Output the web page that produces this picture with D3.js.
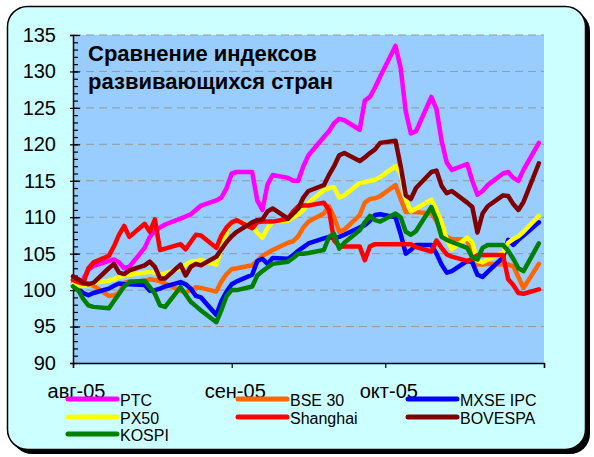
<!DOCTYPE html>
<html>
<head>
<meta charset="utf-8">
<script src="https://cdn.jsdelivr.net/npm/d3@7"></script>
<style>
  body { margin: 0; background: #fff; }
  text { font-family: "Liberation Sans", Arial, sans-serif; }
</style>
</head>
<body>
<div id="content"></div>
<script>
// trading days, Aug-Oct 2005
const dates = [
  "2005-08-01","2005-08-02","2005-08-03","2005-08-04","2005-08-05",
  "2005-08-08","2005-08-09","2005-08-10","2005-08-11","2005-08-12",
  "2005-08-15","2005-08-16","2005-08-17","2005-08-18","2005-08-19",
  "2005-08-22","2005-08-23","2005-08-24","2005-08-25","2005-08-26",
  "2005-08-29","2005-08-30","2005-08-31","2005-09-01","2005-09-02",
  "2005-09-05","2005-09-06","2005-09-07","2005-09-08","2005-09-09",
  "2005-09-12","2005-09-13","2005-09-14","2005-09-15","2005-09-16",
  "2005-09-19","2005-09-20","2005-09-21","2005-09-22","2005-09-23",
  "2005-09-26","2005-09-27","2005-09-28","2005-09-29","2005-09-30",
  "2005-10-03","2005-10-04","2005-10-05","2005-10-06","2005-10-07",
  "2005-10-10","2005-10-11","2005-10-12","2005-10-13","2005-10-14",
  "2005-10-17","2005-10-18","2005-10-19","2005-10-20","2005-10-21",
  "2005-10-24","2005-10-25","2005-10-26","2005-10-27","2005-10-28",
  "2005-10-31"
]

const ptc = [101.0,100.6,101.5,102.8,103.3, 104.0,104.2,103.8,103.0,103.2,
  105.8,107.3,108.1,108.6,109.0, 109.8,110.1,110.4,111.0,111.6,
  112.3,112.7,114.0,116.0,116.2, 116.2,112.3,111.0,114.5,115.8,
  115.4,115.0,115.0,117.0,118.5, 121.0,121.8,122.9,123.5,123.3,
  122.0,126.0,126.5,127.8,129.3, 133.5,130.5,124.5,121.5,121.8,
  126.5,124.8,120.5,117.5,116.5, 117.3,115.0,113.1,113.6,114.4,
  116.0,116.2,115.4,115.0,116.5, 120.2]
const bse30 = [101.4,101.2,101.0,100.9,100.6, 99.2,99.3,99.6,101.0,101.2,
  101.2,101.5,101.4,101.2,100.9, 99.9,99.7,100.0,100.4,100.3,
  99.8,101.2,102.2,102.9,103.0, 103.4,104.0,104.7,105.1,105.5,
  106.5,106.7,107.4,108.6,109.4, 110.5,111.5,110.0,108.0,108.3,
  110.3,112.0,112.5,112.6,112.9, 114.4,112.5,110.7,110.7,110.7,
  110.5,109.5,108.0,107.3,107.0, 106.9,105.0,103.5,103.5,103.6,
  103.5,103.5,103.3,101.8,100.3, 103.6]
const mxse = [100.7,100.2,99.6,99.3,99.6, 100.2,100.6,100.9,100.8,100.8,
  100.7,99.9,100.0,100.2,100.5, 101.1,100.8,100.2,99.2,99.0,
  96.6,98.5,99.8,100.8,101.2, 102.1,104.0,104.3,103.6,104.4,
  104.3,104.8,105.4,105.9,106.4, 107.1,107.3,107.1,107.3,107.6,
  108.6,108.9,109.5,110.3,110.4, 110.0,107.7,105.0,105.5,106.2,
  106.2,105.0,103.5,102.4,102.6, 104.0,103.8,102.1,101.8,102.5,
  104.5,106.9,106.2,106.9,107.5, 109.3]
const px50 = [100.8,100.5,100.6,100.7,101.0, 101.3,101.5,101.8,102.0,102.1,
  102.4,102.5,102.4,102.1,102.3, 103.0,103.5,103.9,104.0,104.1,
  103.5,105.8,108.0,109.3,109.5, 108.8,107.9,107.2,108.5,109.4,
  109.5,110.0,110.4,111.0,112.0, 113.7,114.0,114.1,112.7,113.0,
  114.7,114.8,115.0,115.1,115.5, 117.0,116.0,112.5,110.8,111.2,
  112.4,111.0,109.3,107.0,105.6, 107.2,106.5,104.0,103.8,104.2,
  105.2,106.5,107.0,107.4,108.0, 110.2]
const shanghai = [101.4,101.1,100.9,103.0,103.8, 104.7,106.0,107.6,108.8,107.3,
  109.1,108.0,109.7,105.5,105.7, 106.3,105.6,106.6,107.6,107.5,
  105.8,107.5,108.6,109.3,109.6, 108.5,109.3,109.4,109.4,109.4,
  109.8,110.8,111.5,111.6,111.6, 112.0,111.0,106.8,106.0,106.0,
  106.0,104.1,106.0,106.3,106.3, 106.3,106.3,106.3,106.3,105.9,
  105.3,106.8,105.8,104.9,104.6, 104.0,104.3,104.8,104.8,104.8,
  104.8,101.5,100.7,99.6,99.5, 100.1]
const bovespa = [101.9,101.5,101.0,100.8,101.0, 103.0,103.6,102.4,102.2,102.7,
  103.4,103.9,103.2,101.6,101.6, 103.5,102.0,103.2,103.6,103.4,
  104.6,105.6,106.6,107.4,108.0, 109.3,109.6,109.7,110.8,111.2,
  109.8,110.5,111.2,112.7,113.6, 114.4,115.8,117.0,118.5,118.8,
  117.7,118.2,118.8,119.3,120.2, 120.5,117.0,113.0,112.5,114.0,
  116.2,116.4,114.3,113.3,113.6, 112.0,111.4,107.9,110.5,111.5,
  113.0,112.9,111.8,111.0,112.1, 117.4]
const kospi = [100.5,100.0,98.8,97.9,97.7, 97.5,98.5,99.5,100.5,101.1,
  101.3,100.4,99.5,97.9,97.7, 100.4,99.4,98.4,97.8,97.2,
  95.6,97.3,99.2,100.0,100.0, 100.5,102.0,102.6,103.1,103.6,
  103.9,104.4,105.0,105.0,105.1, 105.5,107.3,107.7,105.7,106.5,
  108.2,109.3,110.2,109.6,109.4, 110.5,110.0,108.0,107.6,108.1,
  111.4,109.7,107.3,106.9,106.6, 105.8,104.5,104.2,105.8,106.2,
  106.2,105.4,104.3,103.0,102.6, 106.4]

// drawing order = legend order (row by row)
const seriesNames = ["PTC", "BSE 30", "MXSE IPC", "PX50", "Shanghai", "BOVESPA", "KOSPI"]
const seriesValues = [ptc, bse30, mxse, px50, shanghai, bovespa, kospi]
const seriesColors = ["#ff00ff", "#ff6600", "#0000ff", "#ffff00", "#ff0000", "#800000", "#008000"]

const monthTicks = ["2005-08-01", "2005-09-01", "2005-10-01"]
const monthLabels = ["авг-05", "сен-05", "окт-05"]
const yTicks = [90, 95, 100, 105, 110, 115, 120, 125, 130, 135]
const titleLines = ["Сравнение индексов", "развивающихся стран"]

const W = 594, H = 457
const plot = {left: 73, right: 544, top: 35, bottom: 363}

const svg = d3.select("#content").append("svg")
    .attr("width", W)
    .attr("height", H)

// outer frame with shadow
svg.append("rect")
    .attr("x", 12).attr("y", 11)
    .attr("width", 578).attr("height", 443)
    .attr("rx", 20)
    .attr("fill", "#000")
svg.append("rect")
    .attr("x", 7.5).attr("y", 6.5)
    .attr("width", 578).attr("height", 443)
    .attr("rx", 20)
    .attr("fill", "#ccffff")
    .attr("stroke", "#000")
    .attr("stroke-width", 1.5)

// plot area
svg.append("rect")
    .attr("x", plot.left).attr("y", plot.top)
    .attr("width", plot.right - plot.left)
    .attr("height", plot.bottom - plot.top)
    .attr("fill", "#99ccff")

const parseDate = d3.timeParse("%Y-%m-%d")
const xScale = d3.scaleTime()
    .domain([parseDate("2005-08-01"), parseDate("2005-11-01")])
    .range([plot.left, plot.right])
const yScale = d3.scaleLinear()
    .domain([90, 135])
    .range([plot.bottom, plot.top])

// gridlines
svg.append("g")
    .selectAll("line")
    .data(yTicks.filter(d => d > 90))
    .join("line")
    .attr("x1", plot.left).attr("x2", plot.right)
    .attr("y1", d => yScale(d)).attr("y2", d => yScale(d))
    .attr("stroke", "#999")
    .attr("stroke-width", 1)
    .attr("stroke-dasharray", "8,5")

// y axis: minor ticks inside, major ticks cross
const yAxisMinor = d3.axisRight(yScale)
    .tickValues(d3.range(90, 136, 1))
    .tickSize(5)
    .tickFormat("")
const yMinor = svg.append("g")
    .attr("transform", `translate(${plot.left}, 0)`)
    .call(yAxisMinor)
yMinor.select(".domain").remove()
yMinor.selectAll("line").attr("stroke", "#000").attr("stroke-width", 1.2)

const yAxis = d3.axisLeft(yScale)
    .tickValues(yTicks)
    .tickSize(3)
    .tickPadding(14)
const yG = svg.append("g")
    .attr("transform", `translate(${plot.left}, 0)`)
    .call(yAxis)
yG.select(".domain").attr("stroke", "#000").attr("stroke-width", 1.5)
yG.selectAll("line").attr("x2", -3).attr("x1", 7).attr("stroke", "#000").attr("stroke-width", 1.2)
yG.selectAll("text")
    .attr("font-size", 20)
    .attr("font-family", "Liberation Sans, Arial, sans-serif")
    .attr("fill", "#000")

// x axis
const xAxis = d3.axisBottom(xScale)
    .tickValues(monthTicks.map(parseDate).concat([parseDate("2005-11-01")]))
    .tickSize(5)
    .tickPadding(16)
    .tickFormat((d, i) => monthLabels[i] || "")
const xG = svg.append("g")
    .attr("transform", `translate(0, ${plot.bottom})`)
    .call(xAxis)
xG.select(".domain").attr("stroke", "#000").attr("stroke-width", 1.5)
xG.selectAll("line").attr("stroke", "#000").attr("stroke-width", 1.2)
xG.selectAll("text")
    .attr("font-size", 20)
    .attr("font-family", "Liberation Sans, Arial, sans-serif")
    .attr("fill", "#000")
    .attr("dx", 3)

// lines
const parsedDates = dates.map(parseDate)
const line = d3.line()
    .x((d, i) => xScale(parsedDates[i]))
    .y(d => yScale(d))

svg.append("g")
    .selectAll("path")
    .data(seriesValues)
    .join("path")
    .attr("d", line)
    .attr("fill", "none")
    .attr("stroke", (d, i) => seriesColors[i])
    .attr("stroke-width", 4.5)
    .attr("stroke-linejoin", "round")
    .attr("stroke-linecap", "round")

// title
svg.append("g")
    .selectAll("text")
    .data(titleLines)
    .join("text")
    .attr("x", 88)
    .attr("y", (d, i) => 61 + i * 28)
    .attr("font-size", 22)
    .attr("font-weight", "bold")
    .attr("fill", "#000")
    .text(d => d)

// legend, 3 columns filled row by row
const legendCols = [68, 238, 408]
const legendRows = [399, 417, 434]
const legend = svg.append("g")
    .selectAll("g")
    .data(seriesNames)
    .join("g")
    .attr("transform", (d, i) => `translate(${legendCols[i % 3]}, ${legendRows[Math.floor(i / 3)]})`)
legend.append("line")
    .attr("x1", 0).attr("x2", 49)
    .attr("stroke", (d, i) => seriesColors[i])
    .attr("stroke-width", 5)
    .attr("stroke-linecap", "round")
legend.append("text")
    .attr("x", 52)
    .attr("y", 7)
    .attr("font-size", 16)
    .attr("fill", "#000")
    .text(d => d)
</script>
</body>
</html>
